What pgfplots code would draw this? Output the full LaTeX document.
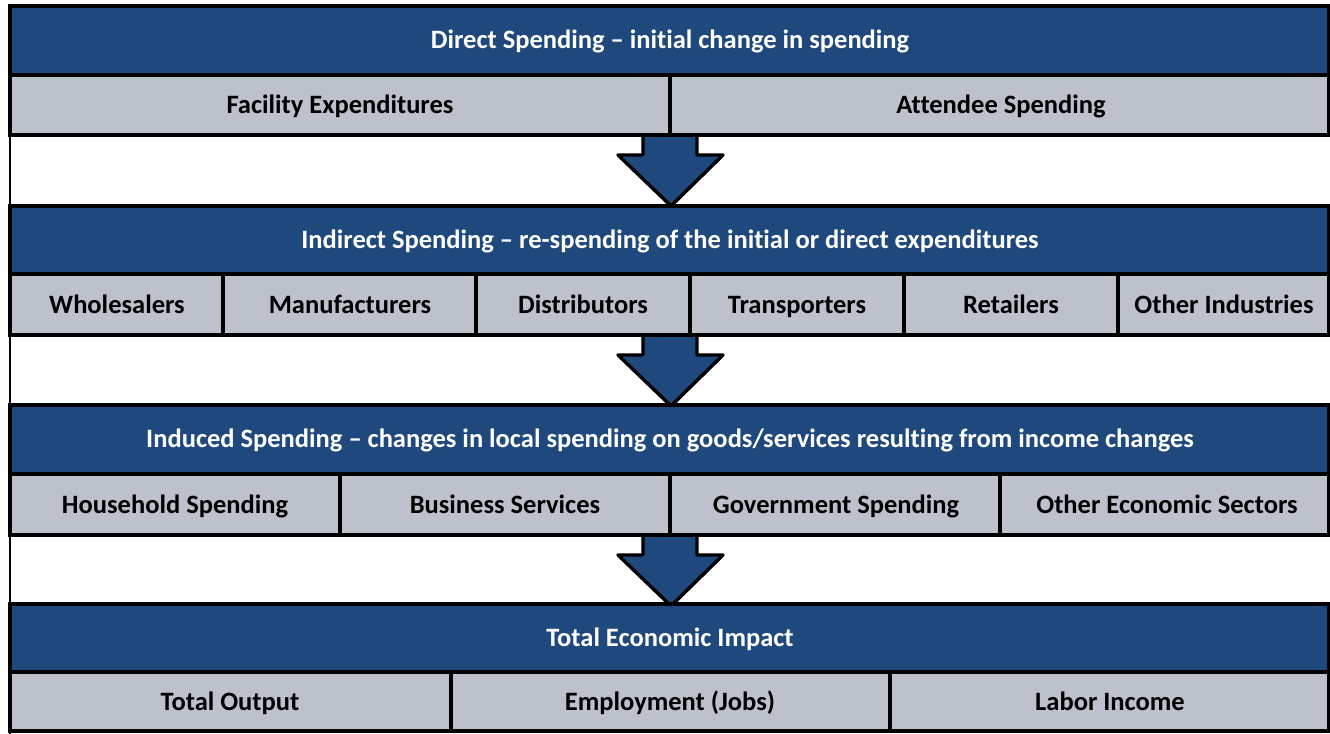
\documentclass[border=0pt]{standalone}
\usepackage{pgfplots}
\pgfplotsset{compat=1.18}
\usepackage{fontspec}
\setmainfont[Ligatures=NoCommon]{Carlito}
\definecolor{dblue}{HTML}{1F497D}
\definecolor{lgrey}{HTML}{BCC1CC}
\newcommand\bx[5]{\addplot[fill=#5,draw=black,line width=1.7bp,line join=miter] coordinates {(#1,#2) (#3,#2) (#3,#4) (#1,#4)} --cycle;}
\newcommand\arr[1]{\addplot[fill=dblue,draw=black,line width=1.7bp,line join=round] coordinates {(643,#1) (697,#1) (697,#1+20) (723,#1+20) (671,#1+71) (618,#1+20) (643,#1+20)} --cycle;}
\begin{document}
\begin{tikzpicture}
\begin{axis}[hide axis, scale only axis, width=665bp, height=367bp,
  xmin=0, xmax=1330, ymin=0, ymax=734, y dir=reverse]
% left thin line
\addplot[black,line width=1bp] coordinates {(10,5) (10,734)};
% arrows
\arr{135}
\arr{335}
\arr{535}
% row 1
\bx{10}{6}{1329}{75}{dblue}
\bx{10}{75}{670}{135}{lgrey}
\bx{670}{75}{1329}{135}{lgrey}
% row 2
\bx{10}{206}{1329}{274}{dblue}
\bx{10}{274}{223}{335}{lgrey}
\bx{223}{274}{476}{335}{lgrey}
\bx{476}{274}{690}{335}{lgrey}
\bx{690}{274}{904}{335}{lgrey}
\bx{904}{274}{1118}{335}{lgrey}
\bx{1118}{274}{1329}{335}{lgrey}
% row 3
\bx{10}{405}{1329}{474}{dblue}
\bx{10}{474}{340}{535}{lgrey}
\bx{340}{474}{670}{535}{lgrey}
\bx{670}{474}{1000}{535}{lgrey}
\bx{1000}{474}{1329}{535}{lgrey}
% row 4
\bx{10}{604}{1329}{672}{dblue}
\bx{10}{672}{451}{731}{lgrey}
\bx{451}{672}{890}{731}{lgrey}
\bx{890}{672}{1329}{731}{lgrey}
% texts
\tikzset{wt/.style={text=white,font=\bfseries\fontsize{13.3}{15}\selectfont,text height=0.68em,text depth=0.2em,inner sep=0pt},
         bt/.style={text=black,font=\bfseries\fontsize{13.3}{15}\selectfont,text height=0.68em,text depth=0.2em,inner sep=0pt}}
\node[wt] at (axis cs:670,44) {Direct Spending -- initial change in spending};
\node[bt] at (axis cs:340,109) {Facility Expenditures};
\node[bt] at (axis cs:1001,109) {Attendee Spending};
\node[wt] at (axis cs:670,244) {Indirect Spending -- re-spending of the initial or direct expenditures};
\node[bt] at (axis cs:117,309) {Wholesalers};
\node[bt] at (axis cs:350,309) {Manufacturers};
\node[bt] at (axis cs:583,309) {Distributors};
\node[bt] at (axis cs:797,309) {Transporters};
\node[bt] at (axis cs:1011,309) {Retailers};
\node[bt] at (axis cs:1224,309) {Other Industries};
\node[wt] at (axis cs:670,443) {Induced Spending -- changes in local spending on goods/services resulting from income changes};
\node[bt] at (axis cs:175,509) {Household Spending};
\node[bt] at (axis cs:505,509) {Business Services};
\node[bt] at (axis cs:836,509) {Government Spending};
\node[bt] at (axis cs:1167,509) {Other Economic Sectors};
\node[wt] at (axis cs:670,642) {Total Economic Impact};
\node[bt] at (axis cs:230,706) {Total Output};
\node[bt] at (axis cs:670,706) {Employment (Jobs)};
\node[bt] at (axis cs:1110,706) {Labor Income};
\end{axis}
\pgfresetboundingbox
\useasboundingbox (current axis.south west) rectangle (current axis.north east);
\end{tikzpicture}
\end{document}
